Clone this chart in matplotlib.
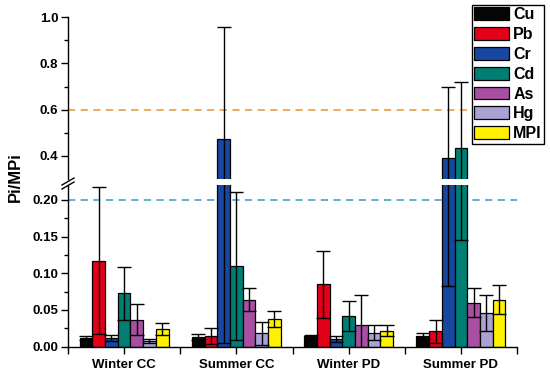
import matplotlib
matplotlib.use("Agg")
import matplotlib.pyplot as plt
import numpy as np
from matplotlib.ticker import FormatStrFormatter, FixedLocator

plt.rcParams['font.family'] = ['Liberation Sans', 'DejaVu Sans']
plt.rcParams['font.weight'] = 'bold'

groups = ["Winter CC", "Summer CC", "Winter PD", "Summer PD"]
series = ["Cu", "Pb", "Cr", "Cd", "As", "Hg", "MPI"]
colors = ["#050505", "#E5001A", "#1747A0", "#007E74", "#A84FA2", "#AAA2D4", "#FFF100"]

cu = [0.012, 0.013, 0.014, 0.015]
pb = [0.117, 0.015, 0.085, 0.021]
cr = [0.012, 0.471, 0.011, 0.391]
cd = [0.073, 0.110, 0.042, 0.432]
as_ = [0.037, 0.064, 0.029, 0.060]
hg = [0.008, 0.018, 0.019, 0.046]
mpi = [0.024, 0.038, 0.022, 0.064]

cu_err_lo = [0.003, 0.004, 0.002, 0.004]
cu_err_hi = [0.003, 0.004, 0.002, 0.004]
pb_err_lo = [0.100, 0.011, 0.046, 0.016]
pb_err_hi = [0.100, 0.011, 0.046, 0.016]
cr_err_lo = [0.004, 0.466, 0.004, 0.308]
cr_err_hi = [0.004, 0.486, 0.004, 0.308]
cd_err_lo = [0.036, 0.101, 0.020, 0.286]
cd_err_hi = [0.036, 0.101, 0.020, 0.286]
as_err_lo = [0.021, 0.016, 0.042, 0.020]
as_err_hi = [0.021, 0.016, 0.042, 0.020]
hg_err_lo = [0.003, 0.016, 0.010, 0.024]
hg_err_hi = [0.003, 0.016, 0.010, 0.024]
mpi_err_lo = [0.008, 0.011, 0.0075, 0.020]
mpi_err_hi = [0.008, 0.011, 0.0075, 0.020]

values = [cu, pb, cr, cd, as_, hg, mpi]
errs_lo = [cu_err_lo, pb_err_lo, cr_err_lo, cd_err_lo, as_err_lo, hg_err_lo, mpi_err_lo]
errs_hi = [cu_err_hi, pb_err_hi, cr_err_hi, cd_err_hi, as_err_hi, hg_err_hi, mpi_err_hi]

fig = plt.figure(figsize=(5.5, 3.75), dpi=100)
left, right = 68/550, 517/550
ax_top = fig.add_axes([left, 1-178.8/375, right-left, (178.8-17.3)/375])
ax_bot = fig.add_axes([left, 1-346.7/375, right-left, (346.7-185.2)/375])

x = np.arange(len(groups))
w = 0.113
handles = []
for ax in (ax_top, ax_bot):
    for j, (name, vals, lo, hi, c) in enumerate(zip(series, values, errs_lo, errs_hi, colors)):
        pos = x + (j-3)*w
        b = ax.bar(pos, vals, width=w, color=c, edgecolor='black', linewidth=0.9,
                   label=name, zorder=2)
        ax.errorbar(pos, vals, yerr=[lo, hi], fmt='none', ecolor='black',
                    elinewidth=1.0, capsize=5, capthick=1.0, zorder=3)
        if ax is ax_bot:
            handles.append(b)
    ax.set_xlim(-0.5, 3.5)
    ax.spines['top'].set_visible(False)
    ax.spines['right'].set_visible(False)
    ax.spines['left'].set_linewidth(1.0)
    ax.spines['bottom'].set_linewidth(1.0)
    ax.tick_params(axis='y', which='major', direction='out', length=5, width=1.0,
                   labelsize=9.5, pad=2)
    ax.tick_params(axis='y', which='minor', direction='out', length=3, width=1.0)

ax_top.axhline(0.6, color='#EAA552', linestyle=(0, (4, 3)), linewidth=1.3, zorder=1)
ax_bot.axhline(0.2, color='#4EA9D1', linestyle=(0, (4, 3)), linewidth=1.3, zorder=1)

ax_top.set_ylim(0.3, 1.0)
ax_top.yaxis.set_major_locator(FixedLocator([0.4, 0.6, 0.8, 1.0]))
ax_top.yaxis.set_minor_locator(FixedLocator([0.5, 0.7, 0.9]))
ax_top.yaxis.set_major_formatter(FormatStrFormatter('%.1f'))
ax_top.spines['bottom'].set_visible(False)
ax_top.tick_params(axis='x', which='both', bottom=False, labelbottom=False)

ax_bot.set_ylim(0, 0.22)
ax_bot.yaxis.set_major_locator(FixedLocator([0.0, 0.05, 0.10, 0.15, 0.20]))
ax_bot.yaxis.set_minor_locator(FixedLocator([0.025, 0.075, 0.125, 0.175]))
ax_bot.yaxis.set_major_formatter(FormatStrFormatter('%.2f'))
ax_bot.set_xticks(x)
ax_bot.set_xticklabels(groups)
ax_bot.set_xticks([-0.5, 0.5, 1.5, 2.5, 3.5], minor=True)
ax_bot.tick_params(axis='x', which='both', direction='out', length=5, width=1.0,
                   labelsize=9.5, pad=4)

for lbl in ax_top.get_yticklabels() + ax_bot.get_yticklabels() + ax_bot.get_xticklabels():
    lbl.set_fontweight('bold')

# break marks
for dy in (0, 4):
    fig.add_artist(plt.Line2D([62/550, 74/550], [1-(185+dy)/375, 1-(178+dy)/375],
                              color='black', linewidth=1.0, transform=fig.transFigure))

fig.text(15/550, 1-177/375, "Pi/MPi", rotation=90, ha='center', va='center',
         fontsize=12, fontweight='bold')

leg = ax_bot.legend(handles=handles, labels=series, loc='upper left',
                    bbox_to_anchor=(472/550, 1-5/375), bbox_transform=fig.transFigure,
                    borderaxespad=0, fancybox=False, framealpha=1, edgecolor='black',
                    prop={'weight': 'bold', 'size': 11.5}, handlelength=2.15,
                    handleheight=0.85, labelspacing=0.3, handletextpad=0.28,
                    borderpad=0.15)
leg.get_frame().set_linewidth(1.0)
leg.set_zorder(10)

fig.savefig("out.png", dpi=100)
